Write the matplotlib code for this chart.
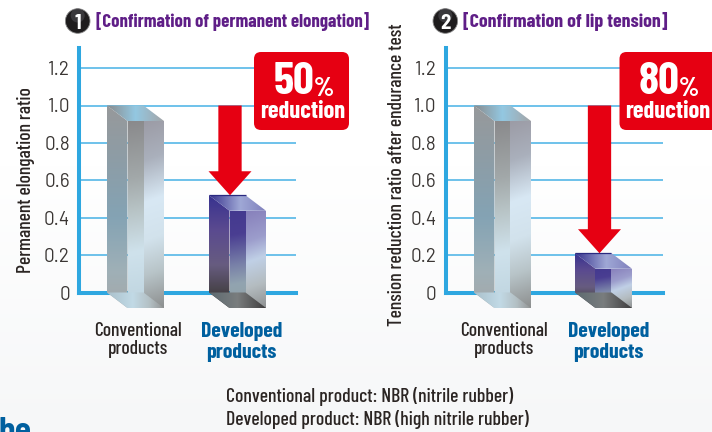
import numpy as np
import matplotlib
matplotlib.use("Agg")
import matplotlib.pyplot as plt
from matplotlib.colors import LinearSegmentedColormap
from matplotlib.patches import Polygon, FancyBboxPatch, Circle

COND = ['Barlow Condensed', 'Roboto Condensed', 'Roboto', 'DejaVu Sans']
SEMI = ['Barlow Semi Condensed', 'Roboto Condensed', 'Roboto', 'DejaVu Sans']
REG = ['Barlow', 'Roboto', 'DejaVu Sans']
plt.rcParams['font.family'] = COND

categories = ["Conventional\nproducts", "Developed\nproducts"]
elongation_values = [1.0, 0.52]
tension_values = [1.0, 0.21]
y_ticks = [0, 0.2, 0.4, 0.6, 0.8, 1.0, 1.2]
y_tick_labels = ["0", "0.2", "0.4", "0.6", "0.8", "1.0", "1.2"]
titles = ["[Confirmation of permanent elongation]", "[Confirmation of lip tension]"]
y_labels = ["Permanent elongation ratio", "Tension reduction ratio after endurance test"]
badge_big = ["50", "80"]

W, H = 712, 432
Y0, PX_PER_UNIT = 292.5, 187.0
YMAX = 1.307
BLUE = '#2ea7e0'
GRID = '#4db4e6'
RED = '#e60012'
PURPLE = '#5f1e87'
DARK = '#2b2523'
NAVY = '#00609f'

fig = plt.figure(figsize=(W/100, H/100), dpi=100)

bg = fig.add_axes([0, 0, 1, 1], zorder=-5)
bg.axis('off')
t = np.clip((np.arange(H) - 165) / (H - 165), 0, 1)[:, None]
c0, c1 = np.array([1, 1, 1.0]), np.array([0xf6, 0xf7, 0xf8]) / 255
bg.imshow((c0 + (c1 - c0) * t[..., None]), aspect='auto', extent=[0, W, H, 0])


def face(ax, pts, stops, angle):
    """Polygon filled with a linear gradient; angle in pixel space, 0 = left to right, 90 = top to bottom."""
    pts = np.array(pts, float)
    x0, x1, y0, y1 = pts[:, 0].min(), pts[:, 0].max(), pts[:, 1].min(), pts[:, 1].max()
    n = 120
    xx, yy = np.meshgrid(np.linspace(x0, x1, n), np.linspace(y1, y0, n))
    a = np.radians(angle)
    v = xx * np.cos(a) - yy * PX_PER_UNIT * np.sin(a)
    v = (v - v.min()) / max(v.max() - v.min(), 1e-6)
    cmap = LinearSegmentedColormap.from_list('g', stops)
    im = ax.imshow(v, cmap=cmap, extent=[x0, x1, y0, y1], aspect='auto',
                   interpolation='bilinear', zorder=3, vmin=0, vmax=1)
    im.set_clip_path(Polygon(pts, closed=True, transform=ax.transData, fc='none', ec='none'))
    im.set_clip_box(fig.bbox)
    im.set_clip_on(True)


CONV = dict(
    left=[(0, '#97999b'), (.22, '#8f9ca4'), (.55, '#84a3b4'), (.82, '#9fb0b7'), (1, '#a4a8aa')],
    fl=[(0, '#8a8a8c'), (.3, '#a2a8a9'), (.48, '#b8c4c6'), (.7, '#cfe2ec'), (1, '#bdd3de')],
    fr=[(0, '#9c9ca6'), (.2, '#aab0bc'), (.42, '#d8e8f4'), (.62, '#d2e2ec'), (.8, '#b8c4c8'), (1, '#8d8f8f')],
    top=[(0, '#8a8b8d'), (.5, '#93c8e2'), (1, '#a3a5a8')],
    bot=[(0, '#a9c0cb'), (.45, '#c2dae6'), (.75, '#b4c0c4'), (1, '#939595')],
)
DEV = dict(
    left=[(0, '#38328f'), (.3, '#5a4a90'), (.62, '#675c80'), (.85, '#48434a'), (1, '#2c292a')],
    fl=[(0, '#43398f'), (.25, '#4a3e92'), (.55, '#7880a8'), (.75, '#92a4b0'), (1, '#90a0a4')],
    fr=[(0, '#8780bb'), (.3, '#9c9dcc'), (.5, '#c0d0e6'), (.75, '#b4bcc0'), (1, '#8e9091')],
    top=[(0, '#38338d'), (.55, '#9fa8d6'), (1, '#8080bc')],
    bot=[(0, '#5d6a70'), (.5, '#7a7d7e'), (1, '#3f3d3e')],
)


def prism(ax, xl, w, v, dx, dy_px, cols):
    """Glass prism whose rear face spans [xl, xl+w] and rises to data value v."""
    dy = dy_px / PX_PER_UNIT
    xm = xl + w
    f0, f1 = xl + dx, xl + w + dx
    face(ax, [(xl, v), (f0, v - dy), (f0, -dy), (xl, 0)], cols['left'], 90)
    face(ax, [(xl, v), (xm, v), (f1, v - dy), (f0, v - dy)], cols['top'], 0)
    face(ax, [(f0, v - dy), (xm, v - dy), (xm, -dy), (f0, -dy)], cols['fl'], 80)
    face(ax, [(xm, v - dy), (f1, v - dy), (f1, -dy), (xm, -dy)], cols['fr'], 70)
    face(ax, [(xl, 0), (xm, 0), (f1, -dy), (f0, -dy)], cols['bot'], 0)
    if v < .9:
        ax.plot([xl, xm], [v, v], color='#2a2a80', lw=.9, zorder=4, solid_capstyle='butt')


def arrow(ax, cx, v_top, v_tip, shaft, head, head_len_px):
    hl = head_len_px / PX_PER_UNIT
    ax.add_patch(Polygon([
        (cx - shaft / 2, v_top), (cx + shaft / 2, v_top), (cx + shaft / 2, v_tip + hl),
        (cx + head / 2, v_tip + hl), (cx, v_tip), (cx - head / 2, v_tip + hl),
        (cx - shaft / 2, v_tip + hl)], closed=True, fc=RED, ec='none', zorder=6, clip_on=False))


def chart(left_px, right_px, values, back_x, ylabel, ylabel_x, ylabel_y, label_off, arrow_x):
    ax = fig.add_axes([left_px / W, (H - Y0) / H, (right_px - left_px) / W, YMAX * PX_PER_UNIT / H], zorder=1)
    ax.patch.set_alpha(0)
    for s in ('top', 'right'):
        ax.spines[s].set_visible(False)
    for s in ('left', 'bottom'):
        ax.spines[s].set_linewidth(2.9)
        ax.spines[s].set_color(BLUE)
    ax.hlines(y_ticks[1:], 0, right_px - left_px, color=GRID, lw=1.15, zorder=1)
    w, dx = 36.5, 20.5
    prism(ax, back_x[0], w, values[0], dx, 15.5, CONV)
    prism(ax, back_x[1], w, values[1], dx, 15.5, DEV)
    ax.set_xlim(0, right_px - left_px)
    ax.set_ylim(0, YMAX)
    ax.set_yticks(y_ticks, y_tick_labels, fontfamily=REG, fontsize=13.5, color='#3a3634')
    ax.tick_params(axis='y', length=0, pad=6.5)
    ax.set_xticks(label_off, categories)
    ax.tick_params(axis='x', length=0, pad=21.5)
    lbls = ax.get_xticklabels()
    lbls[0].set(fontfamily=COND, fontsize=14, color=DARK, fontweight='medium', linespacing=1.0)
    lbls[1].set(fontfamily=COND, fontsize=15.6, color=NAVY, fontweight='bold', linespacing=1.08)
    arrow(ax, arrow_x, 1.0, values[1], 23.3, 43, 24)
    fig.text(ylabel_x / W, 1 - ylabel_y / H, ylabel, rotation=90, ha='center', va='center',
             fontfamily=COND, fontsize=14.1, color=DARK, fontweight='medium')
    return ax


chart(79, 296, elongation_values, [28, 130], y_labels[0], 26.5, 180, [58.7, 162.7], 151)
chart(445.5, 663, tension_values, [28.5, 129.5], y_labels[1], 397, 175, [58.7, 162.7], 154)

ov = fig.add_axes([0, 0, 1, 1], zorder=5)
ov.set_xlim(0, W)
ov.set_ylim(H, 0)
ov.axis('off')
ov.patch.set_alpha(0)


def badge(x0, x1, big, cx):
    ov.add_patch(FancyBboxPatch((x0 + 6, 58), x1 - x0 - 12, 66, boxstyle='round,pad=6,rounding_size=7',
                                fc=RED, ec='none'))
    ov.text(cx - 9, 94, big, color='white', fontsize=33, fontweight='bold', ha='center', va='baseline',
            fontfamily=COND)
    ov.text(cx + 11, 96, '%', color='white', fontsize=19, fontweight='bold', ha='left', va='baseline',
            fontfamily=COND)
    ov.text(cx, 118, 'reduction', color='white', fontsize=17.6, fontweight='bold', ha='center', va='baseline',
            fontfamily=COND)


badge(254, 349, badge_big[0], 302.7)
badge(619.5, 730, badge_big[1], 668)


def bullet(cx, n):
    ov.add_patch(Circle((cx, 21), 12.3, fc='#1e1c1d', ec='#8a8a8a', lw=.6))
    ov.add_patch(Circle((cx, 15.5), 7, fc='#55545a', ec='none', alpha=.5))
    ov.text(cx, 21.5, n, color='white', fontsize=15, fontweight='bold', ha='center', va='center_baseline',
            fontfamily=SEMI)


bullet(77.7, '1')
bullet(445.3, '2')
ov.text(96, 21.5, titles[0], color=PURPLE, fontsize=13.5, fontweight='bold', ha='left', va='center', fontfamily=COND)
ov.text(462.7, 21.5, titles[1], color=PURPLE, fontsize=14.3, fontweight='bold', ha='left', va='center', fontfamily=COND)
ov.text(226, 396, 'Conventional product: NBR (nitrile rubber)', color=DARK, fontsize=14.2, ha='left', va='center',
        fontfamily=COND, fontweight='medium')
ov.text(226, 419.5, 'Developed product: NBR (high nitrile rubber)', color=DARK, fontsize=14.2, ha='left', va='center',
        fontfamily=COND, fontweight='medium')
ov.text(-2, 441, 'he', color=NAVY, fontsize=24, fontweight='bold', ha='left', va='baseline', fontfamily=SEMI)

fig.savefig('out.png', dpi=100)
